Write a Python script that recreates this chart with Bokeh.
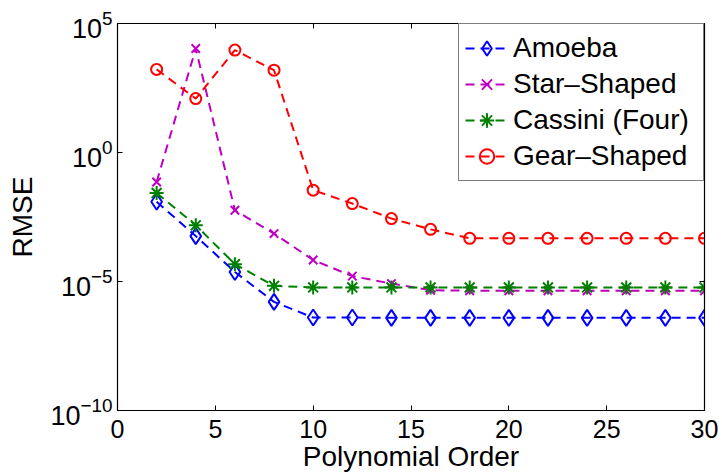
import numpy as np
from bokeh.plotting import figure
from bokeh.models import Range1d, FixedTicker, LinearAxis, LogAxis, Legend
from bokeh.embed import file_html
from bokeh.resources import INLINE

orders = [2, 4, 6, 8, 10, 12, 14, 16, 18, 20, 22, 24, 26, 28, 30]

amoeba = [1.23e-2, 5.75e-4, 2.34e-5, 1.62e-6, 4.0e-7, 4.0e-7, 3.9e-7, 3.9e-7,
          3.9e-7, 3.9e-7, 3.9e-7, 3.9e-7, 3.9e-7, 3.9e-7, 3.9e-7]
star = [7.2e-2, 1.07e4, 5.75e-3, 7.2e-4, 6.8e-5, 1.62e-5, 8.3e-6, 4.6e-6,
        4.4e-6, 4.4e-6, 4.4e-6, 4.4e-6, 4.4e-6, 4.4e-6, 4.4e-6]
cassini = [2.69e-2, 1.51e-3, 4.7e-5, 6.8e-6, 5.9e-6, 5.9e-6, 5.9e-6, 5.9e-6,
           5.9e-6, 5.9e-6, 5.9e-6, 5.9e-6, 5.9e-6, 5.9e-6, 5.9e-6]
gear = [1.66e3, 1.23e2, 9.3e3, 1.55e3, 3.47e-2, 1.05e-2, 2.75e-3, 1.05e-3,
        4.7e-4, 4.7e-4, 4.7e-4, 4.7e-4, 4.7e-4, 4.7e-4, 4.7e-4]

series_names = ["Amoeba", "Star\u2013Shaped", "Cassini (Four)", "Gear\u2013Shaped"]
x_ticks = [0, 5, 10, 15, 20, 25, 30]
y_ticks = [1e-10, 1e-5, 1e0, 1e5]

FONT = "Liberation Sans"

p = figure(width=722, height=475, y_axis_type="log", output_backend="svg",
           toolbar_location=None, x_range=Range1d(0, 30), y_range=Range1d(1e-10, 1e5),
           min_border_left=117, min_border_right=18, min_border_top=23, min_border_bottom=65)
p.xgrid.visible = False
p.ygrid.visible = False
p.outline_line_color = "black"
p.outline_line_width = 1.2
p.background_fill_color = "white"
p.border_fill_color = "white"

p.xaxis.ticker = FixedTicker(ticks=x_ticks, minor_ticks=[])
p.yaxis.ticker = FixedTicker(ticks=y_ticks, minor_ticks=[])
for ax in [p.xaxis[0], p.yaxis[0]]:
    ax.major_tick_in = 5
    ax.major_tick_out = 0
    ax.minor_tick_in = 0
    ax.minor_tick_out = 0
    ax.axis_line_color = "black"
    ax.major_tick_line_color = "black"
    ax.major_label_text_font = FONT
    ax.major_label_text_color = "black"
    ax.axis_label_text_font = FONT
    ax.axis_label_text_font_size = "28px"
    ax.axis_label_text_font_style = "normal"
    ax.axis_label_text_color = "black"

p.xaxis.major_label_text_font_size = "25px"
p.yaxis.major_label_text_font_size = "27px"
p.xaxis.axis_label = "Polynomial Order"
p.yaxis.axis_label = "RMSE"
p.xaxis.major_label_standoff = 9
p.xaxis.axis_label_standoff = 0
p.yaxis.major_label_standoff = 5
p.yaxis.axis_label_standoff = 9

top_ax = LinearAxis(ticker=FixedTicker(ticks=x_ticks, minor_ticks=[]),
                    major_tick_in=5, major_tick_out=0, minor_tick_in=0, minor_tick_out=0,
                    major_label_text_font_size="2px", major_label_text_alpha=0,
                    major_label_standoff=0)
right_ax = LogAxis(ticker=FixedTicker(ticks=y_ticks, minor_ticks=[]),
                   major_tick_in=5, major_tick_out=0, minor_tick_in=0, minor_tick_out=0,
                   major_label_text_font_size="2px", major_label_text_alpha=0,
                   major_label_standoff=0)
p.add_layout(top_ax, "above")
p.add_layout(right_ax, "right")

dash = "9 6"
styles = [
    (amoeba, "#0000ff", "diamond", 16),
    (star, "#bf00bf", "x", 12),
    (cassini, "#008000", "asterisk", 14),
    (gear, "#ff0000", "circle", 11),
]

items = []
for name, (vals, col, mk, sz) in zip(series_names, styles):
    r1 = p.line(orders, vals, line_color=col, line_width=2, line_dash=dash)
    r2 = p.scatter(orders, vals, marker=mk, size=sz, line_color=col, line_width=2,
                   fill_color=None if mk != "asterisk" else col)
    items.append((name, [r1, r2]))

legend = Legend(items=items, location="top_right", margin=0,
                label_text_font=FONT, label_text_font_size="28px", label_text_color="black",
                glyph_width=43, glyph_height=36, label_height=36, label_width=184,
                spacing=0, padding=6, label_standoff=5,
                border_line_color="black", border_line_width=1.2,
                background_fill_color="white", background_fill_alpha=1.0)
p.add_layout(legend, "center")

open("out.html", "w").write(file_html(p, INLINE))
